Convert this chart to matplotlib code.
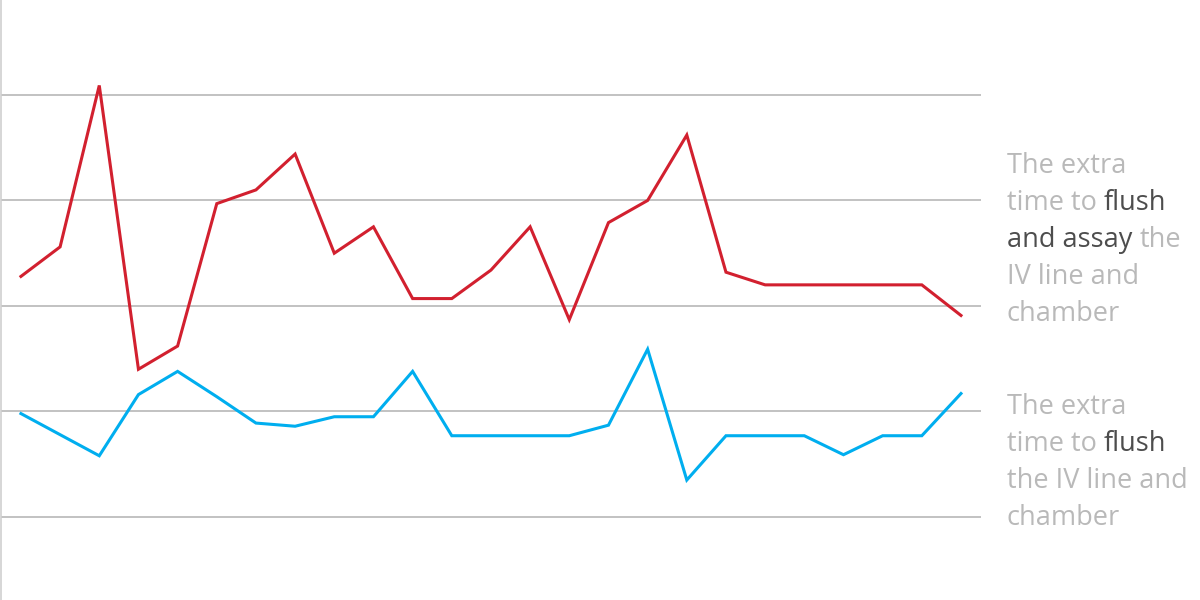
import matplotlib
matplotlib.use("Agg")
import matplotlib.pyplot as plt

# readings, 25 points, gridlines every 10 units
flush_assay = [22.8, 25.6, 40.9, 14.0, 16.2, 29.7, 31.0, 34.4, 25.0, 27.5,
               20.7, 20.7, 23.4, 27.5, 18.7, 27.9, 30.0, 36.2, 23.2, 22.0,
               22.0, 22.0, 22.0, 22.0, 19.1]
flush_only = [9.8, 7.8, 5.8, 11.6, 13.8, 11.4, 8.9, 8.6, 9.5, 9.5,
              13.8, 7.7, 7.7, 7.7, 7.7, 8.7, 15.9, 3.5, 7.7, 7.7,
              7.7, 5.9, 7.7, 7.7, 11.7]
grid_vals = [0, 10, 20, 30, 40]

label_top = [[("The extra", "g")],
             [("time to ", "g"), ("flush", "d")],
             [("and assay", "d"), (" the", "g")],
             [("IV line and", "g")],
             [("chamber", "g")]]
label_bottom = [[("The extra", "g")],
                [("time to ", "g"), ("flush", "d")],
                [("the IV line and", "g")],
                [("chamber", "g")]]

RED = "#d2202f"
BLUE = "#00aeef"
GRID = "#bdbdbd"
LIGHT = "#b9b9b9"
DARK = "#4d4d4d"

fig = plt.figure(figsize=(12, 6), dpi=100)
ax = fig.add_axes([0.0008, 0, 980 / 1200, 1])

for g in grid_vals:
    ax.axhline(g, color=GRID, lw=1.3, zorder=1)

x = list(range(len(flush_assay)))
ax.plot(x, flush_assay, color=RED, lw=2.2, zorder=3, solid_joinstyle="miter")
ax.plot(x, flush_only, color=BLUE, lw=2.2, zorder=3, solid_joinstyle="miter")

ax.set_xlim(-0.51, 24.51)
ax.set_ylim(-7.87, 49.0)
ax.set_xticks([])
ax.set_yticks([])
for s in ["top", "right", "bottom"]:
    ax.spines[s].set_visible(False)
ax.spines["left"].set_color("#cfcfcf")
ax.spines["left"].set_linewidth(1.2)

# side labels, with the key words in dark grey
renderer = fig.canvas.get_renderer()
font = dict(family=["Open Sans", "DejaVu Sans"], fontsize=19.5)


def text_width(s):
    t = fig.text(0, 0, s, **font)
    w = t.get_window_extent(renderer).width
    t.remove()
    return w


def draw_label(lines, x0, y0, step):
    for i, parts in enumerate(lines):
        y = y0 - i * step
        prefix = ""
        for frag, c in parts:
            prefix += frag
            off = text_width(prefix) - text_width(frag.lstrip()) if frag.strip() else 0
            fig.text((x0 + off) / 1200, y / 600, frag.lstrip(),
                     color=LIGHT if c == "g" else DARK, va="baseline", **font)


draw_label(label_top, 1007, 600 - 173, 37)
draw_label(label_bottom, 1007, 600 - 414, 37)

fig.savefig("out.png", dpi=100)
